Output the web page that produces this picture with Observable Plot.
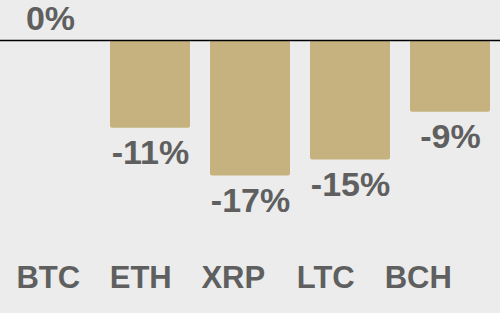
<!DOCTYPE html>
<html>
<head>
<meta charset="utf-8">
<script src="https://cdn.jsdelivr.net/npm/d3@7"></script>
<script src="https://cdn.jsdelivr.net/npm/@observablehq/plot@0.6"></script>
<style>
  html, body { margin: 0; padding: 0; background: #ececec; }
  #wrap { position: relative; width: 500px; height: 313px; overflow: hidden; }
  #wrap svg { position: absolute; left: 0; top: 0; background: transparent; }
</style>
</head>
<body>
<div id="wrap"></div>
<script>
const categories = ["BTC", "ETH", "XRP", "LTC", "BCH"];
const changes = [0, -11, -17, -15, -9];
const labels = ["0%", "-11%", "-17%", "-15%", "-9%"];

const data = categories.map((c, i) => ({cat: c, value: changes[i], label: labels[i]}));

const barColor = "#c5b27e";
const textColor = "#5f5f5f";
const font = "'Liberation Sans', Arial, Helvetica, sans-serif";

const main = Plot.plot({
  width: 500,
  height: 313,
  marginTop: 40,
  marginBottom: 137.5,
  marginLeft: 0,
  marginRight: 0,
  style: {background: "transparent", fontFamily: font, fontWeight: "bold"},
  x: {type: "band", domain: categories, paddingInner: 0.2, paddingOuter: 0.1, round: false, axis: null},
  y: {domain: [-17, 0], axis: null},
  marks: [
    Plot.barY(data, {x: "cat", y: "value", fill: barColor, rx: 2}),
    Plot.ruleY([0], {stroke: "#000", strokeWidth: 1.3}),
    Plot.text(data.filter(d => d.value < 0), {
      x: "cat", y: "value", text: "label", lineAnchor: "top", dy: 12,
      fill: textColor, fontSize: 34, fontWeight: "bold"
    }),
    Plot.text(data.filter(d => d.value >= 0), {
      x: "cat", y: "value", text: "label", lineAnchor: "bottom", dy: -11,
      fill: textColor, fontSize: 34, fontWeight: "bold"
    })
  ]
});

const axis = Plot.plot({
  width: 500,
  height: 313,
  marginTop: 0,
  marginBottom: 48,
  marginLeft: 1.5,
  marginRight: 36,
  style: {background: "transparent", fontFamily: font, fontWeight: "bold"},
  x: {type: "band", domain: categories, padding: 0, round: false},
  marks: [
    Plot.axisX({anchor: "bottom", tickSize: 0, tickPadding: 0, fontSize: 31, fill: textColor, label: null})
  ]
});

const wrap = document.getElementById("wrap");
wrap.appendChild(main);
wrap.appendChild(axis);
</script>
</body>
</html>
